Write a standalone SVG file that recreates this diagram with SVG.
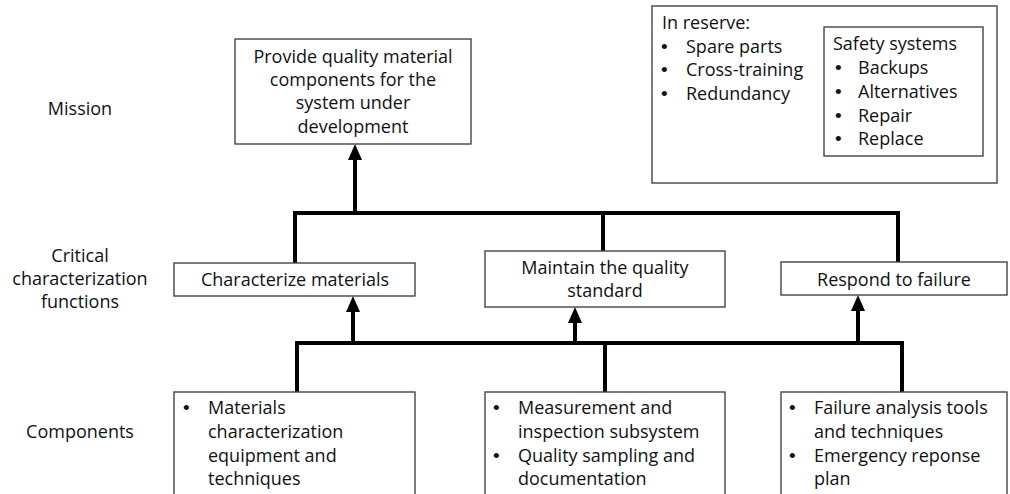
<svg xmlns="http://www.w3.org/2000/svg" width="1010" height="494" viewBox="0 0 1010 494">
  <style>
    .box { fill: #fff; stroke: #444; stroke-width: 1.4; }
    .t { font-family: "Open Sans", "Noto Sans", "Liberation Sans", sans-serif; font-size: 18px; fill: #111; }
    .b { font-family: "Liberation Sans", Arial, sans-serif; font-size: 19px; fill: #111; }
    .c { text-anchor: middle; }
    .wire { fill: none; stroke: #000; stroke-width: 4; stroke-linejoin: miter; stroke-linecap: square; }
    .arrow { fill: none; stroke: #000; stroke-width: 4; }
  </style>
  <defs>
    <marker id="head" markerUnits="userSpaceOnUse" markerWidth="16" markerHeight="14" refX="0" refY="7" orient="auto">
      <path d="M0,0 L16,7 L0,14 z" fill="#000"/>
    </marker>
  </defs>
  <rect width="1010" height="494" fill="#fff"/>

  <!-- row labels -->
  <g id="labels" class="t c">
    <text x="80" y="115">Mission</text>
    <text x="80" y="262">Critical</text>
    <text x="80" y="285">characterization</text>
    <text x="80" y="308">functions</text>
    <text x="80" y="438">Components</text>
  </g>

  <!-- connectors -->
  <g id="connectors">
    <path class="wire" d="M295,263 V213 H898 V262"/>
    <path class="wire" d="M603,213 V251"/>
    <path class="arrow" d="M355,213 V160" marker-end="url(#head)"/>
    <path class="wire" d="M297,392 V343 H902 V392"/>
    <path class="wire" d="M605,343 V392"/>
    <path class="arrow" d="M353,343 V312" marker-end="url(#head)"/>
    <path class="arrow" d="M575,343 V323" marker-end="url(#head)"/>
    <path class="arrow" d="M858,343 V311" marker-end="url(#head)"/>
  </g>

  <g id="mission">
    <rect class="box" x="235" y="39" width="236" height="105"/>
    <g class="t c">
      <text x="353" y="63">Provide quality material</text>
      <text x="353" y="86">components for the</text>
      <text x="353" y="109">system under</text>
      <text x="353" y="133">development</text>
    </g>
  </g>

  <g id="reserve">
    <rect class="box" x="652" y="6" width="345" height="177"/>
    <text class="t" x="662" y="29">In reserve:</text>
    <g class="b">
      <text x="661" y="53">•</text>
      <text x="661" y="76">•</text>
      <text x="661" y="100">•</text>
    </g>
    <g class="t">
      <text x="686" y="53">Spare parts</text>
      <text x="686" y="76">Cross-training</text>
      <text x="686" y="100">Redundancy</text>
    </g>
  </g>

  <g id="safety">
    <rect class="box" x="824" y="27" width="159" height="129"/>
    <text class="t" x="833" y="50">Safety systems</text>
    <g class="b">
      <text x="835" y="74">•</text>
      <text x="835" y="98">•</text>
      <text x="835" y="122">•</text>
      <text x="835" y="145">•</text>
    </g>
    <g class="t">
      <text x="858" y="74">Backups</text>
      <text x="858" y="98">Alternatives</text>
      <text x="858" y="122">Repair</text>
      <text x="858" y="145">Replace</text>
    </g>
  </g>

  <g id="characterize">
    <rect class="box" x="174" y="263" width="241" height="33"/>
    <text class="t c" x="295" y="286">Characterize materials</text>
  </g>

  <g id="maintain">
    <rect class="box" x="485" y="251" width="240" height="56"/>
    <g class="t c">
      <text x="605" y="274">Maintain the quality</text>
      <text x="605" y="297">standard</text>
    </g>
  </g>

  <g id="respond">
    <rect class="box" x="781" y="262" width="226" height="33"/>
    <text class="t c" x="894" y="286">Respond to failure</text>
  </g>

  <g id="comp-materials">
    <rect class="box" x="174" y="392" width="241" height="110"/>
    <text class="b" x="183" y="414">•</text>
    <g class="t">
      <text x="208" y="414">Materials</text>
      <text x="208" y="438">characterization</text>
      <text x="208" y="462">equipment and</text>
      <text x="208" y="485">techniques</text>
    </g>
  </g>

  <g id="comp-quality">
    <rect class="box" x="485" y="392" width="240" height="110"/>
    <g class="b">
      <text x="493" y="414">•</text>
      <text x="493" y="462">•</text>
    </g>
    <g class="t">
      <text x="518" y="414">Measurement and</text>
      <text x="518" y="438">inspection subsystem</text>
      <text x="518" y="462">Quality sampling and</text>
      <text x="518" y="485">documentation</text>
    </g>
  </g>

  <g id="comp-failure">
    <rect class="box" x="781" y="392" width="226" height="110"/>
    <g class="b">
      <text x="789" y="414">•</text>
      <text x="789" y="462">•</text>
    </g>
    <g class="t">
      <text x="814" y="414">Failure analysis tools</text>
      <text x="814" y="438">and techniques</text>
      <text x="814" y="462">Emergency reponse</text>
      <text x="814" y="485">plan</text>
    </g>
  </g>
</svg>
